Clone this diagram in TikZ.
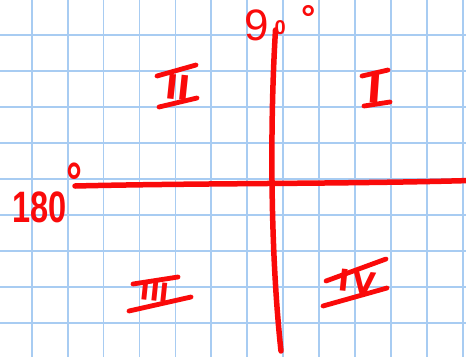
\documentclass[tikz,border=0pt]{standalone}
\usepackage{fontspec}
\setmainfont{Liberation Sans}
\newfontfamily\numfont{DejaVu Sans}
\begin{document}
\begin{tikzpicture}[x=1pt,y=-1pt,
  gridline/.style={draw=gridblue,line width=1.8pt},
  axis/.style={draw=penred,line width=5.5pt,line cap=round},
  stroke/.style={draw=penred,line width=4.8pt,line cap=round,line join=round},
  roman/.style={text=penred,inner sep=0pt},
  hand/.style={text=penred,inner sep=0pt,font=\fontsize{44}{44}\selectfont}]
\definecolor{gridblue}{RGB}{168,204,242}
\definecolor{penred}{RGB}{250,10,10}
\useasboundingbox (0,0) rectangle (466,357);
\fill[white] (0,0) rectangle (466,357);
% grid
\foreach \i in {0,...,12} {
  \draw[gridline] ({31.7+35.93*\i},0) -- ({31.7+35.93*\i},357);
}
\foreach \j in {0,...,9} {
  \draw[gridline] (0,{-0.6+35.93*\j}) -- (466,{-0.6+35.93*\j});
}
% axes
\coordinate (xl) at (75,186);
\coordinate (xr) at (470,180.5);
\coordinate (yt) at (275.5,30);
\coordinate (yb) at (281,351);
\draw[axis] (xl) .. controls (200,183) and (350,184) .. (xr);
\draw[axis] (yt) .. controls (270,120) and (270,250) .. (yb);
% angle labels
\node[hand,anchor=base west] (l90) at (244,40) {9\kern6pt\raisebox{6pt}{\fontsize{20}{20}\selectfont\bfseries 0}\kern16pt\raisebox{10pt}{\fontsize{36}{36}\selectfont\bfseries °}};
\node[hand,anchor=base west,xscale=0.74] (l180) at (12,222) {\textbf{180}\raisebox{22pt}{\fontsize{54}{54}\selectfont\bfseries °}};
% quadrant II
\node[roman,font=\numfont\bfseries\fontsize{34}{34}\selectfont,rotate=-6] (q2) at (178,87) {II};
\draw[stroke] (157,76) -- (196,65);
\draw[stroke] (159,107) -- (197,98);
% quadrant I
\node[roman,font=\numfont\bfseries\fontsize{40}{40}\selectfont,rotate=-4] (q1) at (375,88) {I};
\draw[stroke] (362,76) -- (388,70);
\draw[stroke] (364,106) -- (390,102);
% quadrant III
\node[roman,font=\numfont\bfseries\fontsize{26}{26}\selectfont,rotate=-6] (q3) at (155,292) {III};
\draw[stroke] (133,284) -- (178,277);
\draw[stroke] (129,311) -- (191,297);
% quadrant IV
\node[roman,font=\numfont\bfseries\fontsize{30}{30}\selectfont,rotate=-6] (q4) at (357,282) {I\kern3pt V};
\draw[stroke] (326,281) -- (386,259);
\draw[stroke] (323,306) -- (387,288);
\end{tikzpicture}
\end{document}
